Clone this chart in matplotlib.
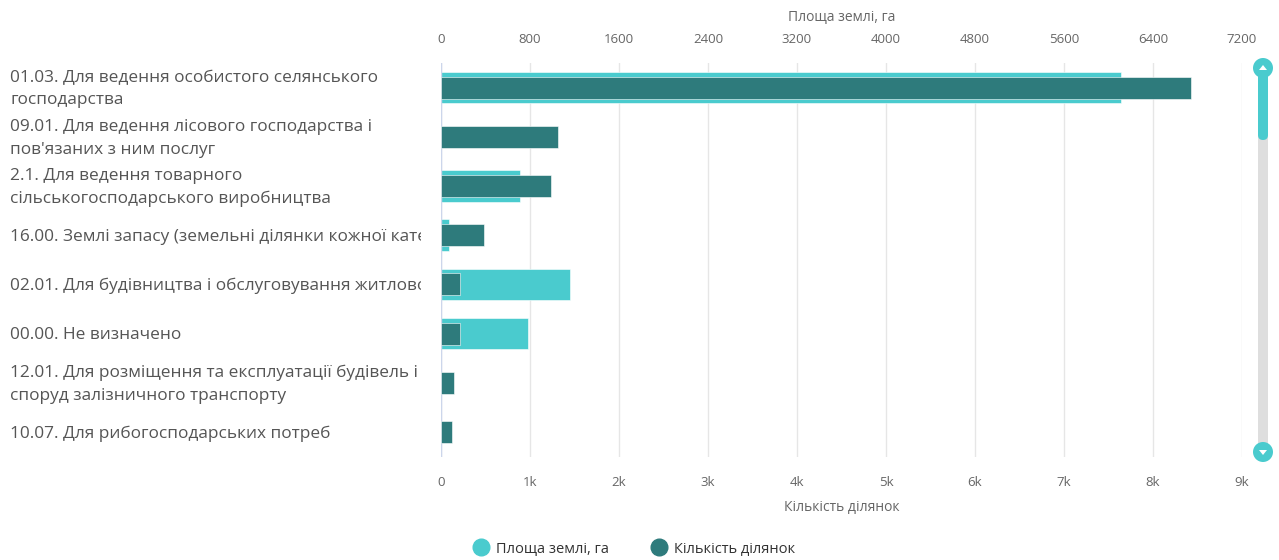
import matplotlib.pyplot as plt
from matplotlib.patches import Circle, FancyBboxPatch, Polygon
from matplotlib.lines import Line2D
from matplotlib.transforms import Bbox

plt.rcParams['font.family'] = ['Open Sans', 'DejaVu Sans']

categories = [
    "01.03. Для ведення особистого селянського\nгосподарства",
    "09.01. Для ведення лісового господарства і\nпов'язаних з ним послуг",
    "2.1. Для ведення товарного\nсільськогосподарського виробництва",
    "16.00. Землі запасу (земельні ділянки кожної категорії земель)",
    "02.01. Для будівництва і обслуговування житлового будинку",
    "00.00. Не визначено",
    "12.01. Для розміщення та експлуатації будівель і\nспоруд залізничного транспорту",
    "10.07. Для рибогосподарських потреб",
]
area = [6110, 0, 710, 72, 1160, 785, 0, 0]          # Площа землі, га
count = [8430, 1318, 1239, 487, 213, 213, 150, 120]  # Кількість ділянок

area_ticks = [0, 800, 1600, 2400, 3200, 4000, 4800, 5600, 6400, 7200]
count_ticks = [0, 1000, 2000, 3000, 4000, 5000, 6000, 7000, 8000, 9000]
count_labels = ["0", "1k", "2k", "3k", "4k", "5k", "6k", "7k", "8k", "9k"]

light = "#4ACBCE"
dark = "#2E7B7C"
grey = "#666666"

W, H = 1279, 560
fig = plt.figure(figsize=(W / 100, H / 100), dpi=100)
left, right = 441 / W, 1242 / W
bottom, top = 1 - 456.6 / H, 1 - 63 / H
ax = fig.add_axes([left, bottom, right - left, top - bottom])
ax2 = ax.twiny()

y = list(range(len(categories)))

# площа - верхня вісь
ax.barh(y, area, height=0.64, color=light, edgecolor="white", linewidth=0.4, zorder=2)
ax.set_xlim(0, 7200)
ax.set_xticks(area_ticks)
ax.set_xticklabels([str(t) for t in area_ticks])
ax.xaxis.tick_top()
ax.xaxis.set_label_position("top")
ax.set_xlabel("Площа землі, га", fontsize=10, color=grey, labelpad=9)
ax.tick_params(axis="x", length=0, labelsize=9.5, labelcolor=grey, pad=12)
ax.grid(axis="x", color="#e6e6e6", linewidth=1, zorder=0)
ax.set_axisbelow(True)

# кількість - нижня вісь
ax2.barh(y, count, height=0.45, color=dark, edgecolor="white", linewidth=0.4, zorder=3)
ax2.set_xlim(0, 9000)
ax2.set_xticks(count_ticks)
ax2.set_xticklabels(count_labels)
ax2.xaxis.tick_bottom()
ax2.xaxis.set_label_position("bottom")
ax2.set_xlabel("Кількість ділянок", fontsize=10, color=grey, labelpad=8)
ax2.tick_params(axis="x", length=0, labelsize=9.5, labelcolor=grey, pad=14)

for a in (ax, ax2):
    a.set_ylim(len(categories) - 0.5, -0.5)
    a.set_yticks([])
    for s in a.spines.values():
        s.set_visible(False)
ax.axvline(0, color="#ccd6eb", linewidth=1, zorder=4)

# підписи категорій, обрізані біля осі
clip = Bbox.from_extents(0, 0, 421, H)
for i, cat in enumerate(categories):
    yy = ax.transData.transform((0, i))[1] - 1.5
    t = fig.text(10 / W, yy / H, cat, ha="left", va="center", fontsize=12.4,
                 color="#555555", linespacing=1.55)
    t.set_clip_on(True)
    t.set_clip_box(clip)

# смуга прокрутки (координати в пікселях від верху)
sx = 1263


def fy(py):
    return H - py


fig.patches.append(FancyBboxPatch((1258, fy(450)), 10, 450 - 68,
                                  boxstyle="square,pad=0", transform=None,
                                  facecolor="#dedede", edgecolor="none"))
fig.patches.append(FancyBboxPatch((1258, fy(140)), 10, 140 - 66,
                                  boxstyle="round,pad=0,rounding_size=5", transform=None,
                                  facecolor=light, edgecolor="none"))
for cy, up in ((68, True), (452, False)):
    c = fy(cy)
    fig.patches.append(Circle((sx, c), 10, transform=None, facecolor=light,
                              edgecolor="none"))
    d = 3 if up else -3
    fig.patches.append(Polygon([(sx - 4, c - d / 1.5), (sx + 4, c - d / 1.5),
                                (sx, c + d)], closed=True, transform=None,
                               facecolor="white", edgecolor="none"))

# легенда
handles = [Line2D([0], [0], marker="o", linestyle="", markersize=12, color=light),
           Line2D([0], [0], marker="o", linestyle="", markersize=12, color=dark)]
fig.legend(handles, ["Площа землі, га", "Кількість ділянок"], loc="center",
           bbox_to_anchor=(631 / W, 1 - 549 / H), ncol=2, frameon=False,
           fontsize=10.5, labelcolor="#333333", handletextpad=0.05, columnspacing=2.4)

fig.savefig("out.png", dpi=100)
